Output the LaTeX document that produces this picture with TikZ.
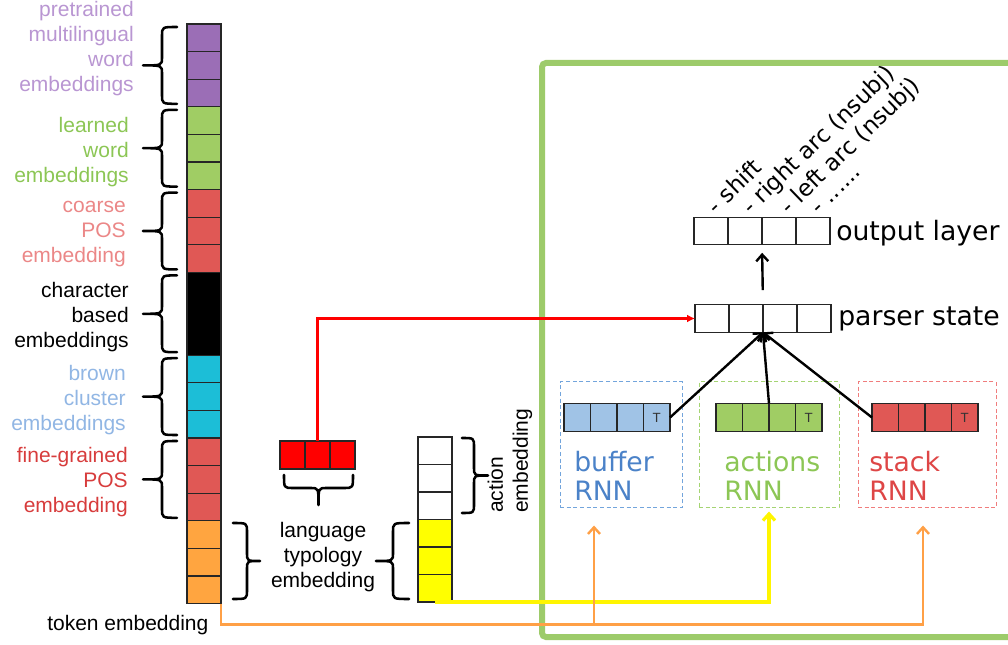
\documentclass[tikz,border=0pt]{standalone}
\usepackage{fontspec}
\setmainfont{Liberation Sans}
\newfontfamily\handfont{DejaVu Sans}
\usetikzlibrary{arrows.meta,calc}
\definecolor{cPurp}{RGB}{155,110,182}
\definecolor{cGrn}{RGB}{160,205,100}
\definecolor{cRed}{RGB}{224,88,85}
\definecolor{cCyan}{RGB}{28,190,215}
\definecolor{cOrg}{RGB}{255,165,64}
\definecolor{cYel}{RGB}{255,255,0}
\definecolor{cBlueCell}{RGB}{160,195,230}
\definecolor{tPurp}{RGB}{185,150,210}
\definecolor{tGrn}{RGB}{140,198,85}
\definecolor{tPink}{RGB}{235,135,135}
\definecolor{tBlue}{RGB}{145,182,228}
\definecolor{tRed}{RGB}{215,60,60}
\definecolor{hBlue}{RGB}{75,130,200}
\definecolor{hGrn}{RGB}{140,198,85}
\definecolor{hRed}{RGB}{222,70,70}
\definecolor{dBlue}{RGB}{115,165,220}
\definecolor{dGrn}{RGB}{165,212,115}
\definecolor{dRed}{RGB}{240,125,125}
\definecolor{frameG}{RGB}{157,203,106}
\definecolor{lOrg}{RGB}{255,160,70}
\definecolor{lYel}{RGB}{255,245,0}

% vertical brace: hook x, body x, tip x, y1, y2
\newcommand\vbr[5]{%
  \draw[brc] ({#1},{#4}) .. controls ({#2},{#4}) .. ({#2},{#4+9})
    -- ({#2},{(#4+#5)/2-8}) .. controls ({#2},{(#4+#5)/2}) .. ({#3},{(#4+#5)/2})
    .. controls ({#2},{(#4+#5)/2}) .. ({#2},{(#4+#5)/2+8})
    -- ({#2},{#5-9}) .. controls ({#2},{#5}) .. ({#1},{#5});}
% horizontal brace: hook y, body y, tip y, x1, x2
\newcommand\hbr[5]{%
  \draw[brc] ({#4},{#1}) .. controls ({#4},{#2}) .. ({#4+9},{#2})
    -- ({(#4+#5)/2-8},{#2}) .. controls ({(#4+#5)/2},{#2}) .. ({(#4+#5)/2},{#3})
    .. controls ({(#4+#5)/2},{#2}) .. ({(#4+#5)/2+8},{#2})
    -- ({#5-9},{#2}) .. controls ({#5},{#2}) .. ({#5},{#1});}

\begin{document}
\begin{tikzpicture}[x=0.75pt,y=-0.75pt,
  brc/.style={line width=1.9pt,black,line cap=round,line join=round},
  cellbase/.style={draw=black!85,line width=0.9pt,inner sep=0pt,outer sep=0pt},
  mcell/.style={cellbase,minimum width=25.5pt,minimum height=20.7pt},
  hcell/.style={cellbase,minimum width=19.875pt,minimum height=21pt},
  pcell/.style={cellbase,fill=white,minimum width=25.5pt,minimum height=20.7pt},
  rcell/.style={cellbase,minimum width=18.75pt,minimum height=21pt},
  acell/.style={cellbase,minimum width=25.5pt,minimum height=20.625pt},
  lbl/.style={font=\fontsize{15.75}{18.75}\selectfont,align=right,inner sep=0pt},
  hand/.style={font=\handfont\fontsize{20}{21.5}\selectfont,inner sep=0pt,align=left},
  handsm/.style={font=\handfont\fontsize{17.3}{18}\selectfont,inner sep=0pt},
  tlab/.style={font=\fontsize{10}{10}\selectfont,text=black!80,inner sep=0pt},
  dbox/.style={draw,dash pattern=on 3pt off 2pt,line width=0.75pt,inner sep=0pt,minimum height=94.5pt},
  blk/.style={line width=1.8pt,black,-{Straight Barb[length=5pt,width=9pt]}},
  rline/.style={line width=2.1pt,red,-{Latex[length=6pt,width=6pt]}},
  yline/.style={line width=2.4pt,lYel,-{Straight Barb[length=5pt,width=9pt]}},
  oline/.style={line width=1.8pt,lOrg,-{Straight Barb[length=5pt,width=9pt]}},
  frame/.style={line width=4.5pt,frameG,rounded corners=3pt}]
\useasboundingbox (0,0) rectangle (1008,645);

% big green frame
\draw[frame] (1030,63) -- (542,63) -- (542,637) -- (1030,637);

% main token column
\foreach \k/\c in {0/cPurp,1/cPurp,2/cPurp,3/cGrn,4/cGrn,5/cGrn,6/cRed,7/cRed,8/cRed,12/cCyan,13/cCyan,14/cCyan,15/cRed,16/cRed,17/cRed,18/cOrg,19/cOrg,20/cOrg}
  \node[mcell,fill=\c] (m\k) at (204,{24+27.6*(\k+0.5)}) {};
\node[mcell,fill=black,minimum height=62.1pt] (mchar) at (204,{24+27.6*10.5}) {};

% group braces
\foreach \g in {0,...,5}
  \vbr{177}{162}{143}{24+82.8*\g+3}{24+82.8*\g+79.8};

% group labels
\node[lbl,text=tPurp,anchor=east] (Lpurp) at (134,49) {pretrained\\multilingual\\word\\embeddings};
\node[lbl,text=tGrn,anchor=east] (Lgrn) at (129,152) {learned\\word\\embeddings};
\node[lbl,text=tPink,anchor=east] (Lpink) at (126,234) {coarse\\POS\\embedding};
\node[lbl,text=black,anchor=east] (Lchar) at (129,317) {character\\based\\embeddings};
\node[lbl,text=tBlue,anchor=east] (Lblue) at (126,400) {brown\\cluster\\embeddings};
\node[lbl,text=tRed,anchor=east] (Lred) at (128,482) {fine-grained\\POS\\embedding};
\node[lbl,anchor=west] (tok) at (47,625) {token embedding};

% language typology
\vbr{233}{247}{260}{523}{599}
\node[lbl,align=center] (lang) at (323,557) {language\\typology\\embedding};
\vbr{409}{393}{376}{523}{599}

% red typology vector
\foreach \i in {1,2,3}
  \node[rcell,fill=red] (r\i) at ({280+25*(\i-0.5)},455) {};
\hbr{475}{488}{505}{284}{353}

% action column
\foreach \i/\c in {1/white,2/white,3/white,4/cYel,5/cYel,6/cYel}
  \node[acell,fill=\c] (ac\i) at (435,{437+27.5*(\i-0.5)}) {};
\vbr{462}{474}{488}{438}{513}
\node[lbl,rotate=90,anchor=west,align=left] (actemb) at (510,513) {action\\embedding};

% dashed RNN boxes
\node[dbox,draw=dBlue,minimum width=91.5pt] (bufbox) at (621,445) {};
\node[dbox,draw=dGrn,minimum width=105pt] (actbox) at (769,445) {};
\node[dbox,draw=dRed,minimum width=103.5pt] (stkbox) at (927,445) {};

\foreach \i in {1,...,4} {
  \node[hcell,fill=cBlueCell] (b\i) at ({564+26.5*(\i-0.5)},417.5) {};
  \node[hcell,fill=cGrn] (t\i) at ({716+26.5*(\i-0.5)},417.5) {};
  \node[hcell,fill=cRed] (s\i) at ({872+26.5*(\i-0.5)},417.5) {};
}
\node[tlab] at (b4) {T};
\node[tlab] at (t4) {T};
\node[tlab] at (s4) {T};

\node[hand,text=hBlue,anchor=west] (buftxt) at (574,476) {buffer\\RNN};
\node[hand,text=hGrn,anchor=west] (acttxt) at (724,476) {actions\\RNN};
\node[hand,text=hRed,anchor=west] (stktxt) at (869,476) {stack\\RNN};

% parser state and output layer
\foreach \i in {1,...,4} {
  \node[pcell] (p\i) at ({695+34*(\i-0.5)},318.5) {};
  \node[pcell] (o\i) at ({694+34*(\i-0.5)},231) {};
}
\node[hand,anchor=west] (pstxt) at (838,319) {parser state};
\node[hand,anchor=west] (outtxt) at (836,233) {output layer};

\node[handsm,rotate=44,anchor=base west] (l1) at ($(o1.north)+(5,-2)$) {- shift};
\node[handsm,rotate=44,anchor=base west] (l2) at ($(o2.north)+(6,-2)$) {- right arc (nsubj)};
\node[handsm,rotate=44,anchor=base west] (l3) at ($(o3.north)+(10,-2)$) {- left arc (nsubj)};
\node[handsm,rotate=44,anchor=base west] (l4) at ($(o4.north)+(6,-2)$) {- ......};

% connectors
\draw[blk] (b4.east) -- (p2.south east);
\draw[blk] (t2.north east) -- (p2.south east);
\draw[blk] (s1.west) -- (p2.south east);
\draw[blk,shorten <=11pt,shorten >=6pt] (p2.north east) -- (o2.south east);

\draw[rline] (r2.north) |- (p1.west);

\draw[yline] (ac6.south) -| ($(actbox.south)+(0,3)$);

\coordinate (obot) at ($(m20.south east)+(0,21)$);
\coordinate (obuf) at ($(bufbox.south)+(-27,17)$);
\coordinate (ostk) at ($(stkbox.south)+(-4,17)$);
\draw[oline] (m20.south east) -- (obot) -| (ostk);
\draw[oline] (obuf |- obot) -- (obuf);
\end{tikzpicture}
\end{document}
